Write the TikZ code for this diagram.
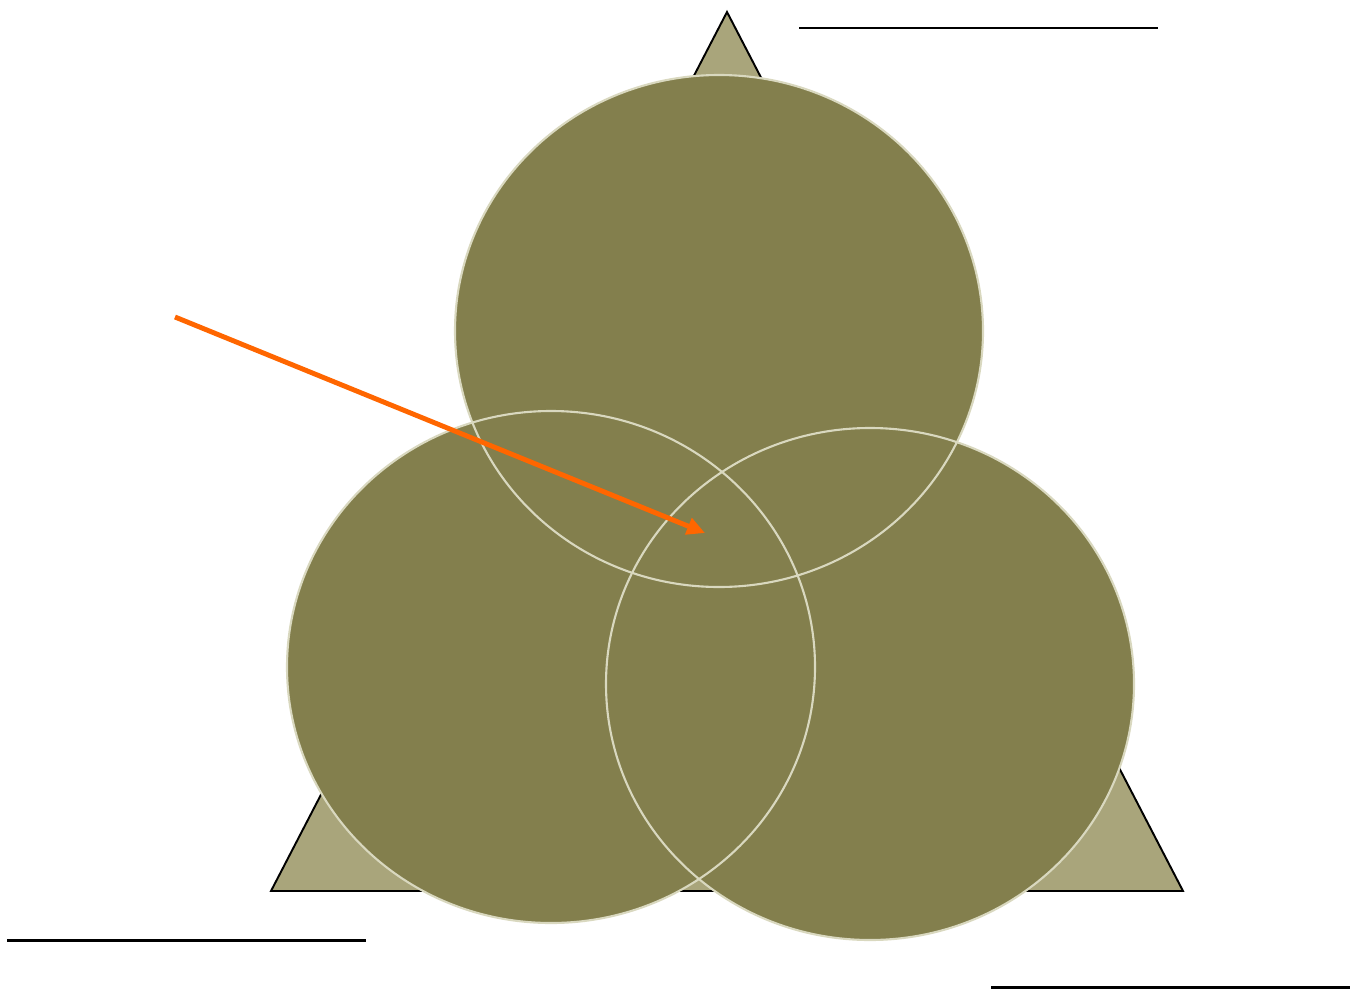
\documentclass[tikz,border=0pt]{standalone}
\usepackage{xcolor}
\usepackage{tikz}
\usetikzlibrary{arrows.meta}
\definecolor{vdolive}{HTML}{837F4D}
\definecolor{vdpale}{HTML}{A9A57B}
\definecolor{vdrim}{HTML}{D9D8BF}
\definecolor{vdorange}{HTML}{FF6600}
\tikzset{
  vdtri/.style={fill=vdpale, draw=black, line width=1.1pt, line join=miter},
  vdfill/.style={fill=vdolive, draw=none},
  vdedge/.style={draw=vdrim, line width=1.2pt},
  vdrule/.style={line width=1.7pt, draw=black},
  vdarrow/.style={line width=2.8pt, draw=vdorange, -{Triangle[length=0.36cm,width=0.34cm]}},
}

\begin{document}
\begin{tikzpicture}[x=0.02cm,y=-0.02cm]
\useasboundingbox (0,0) rectangle (1358,990);
\draw[vdtri] (727,12) -- (1183,891) -- (271,891) -- cycle;
% the three discs
\coordinate (ctop) at (719,331);
\coordinate (cleft) at (551,667);
\coordinate (cright) at (870,684);
\foreach \c in {ctop,cleft,cright}
  \fill[vdfill] (\c) ellipse [x radius=264, y radius=256];
\foreach \c in {ctop,cleft,cright}
  \draw[vdedge] (\c) ellipse [x radius=264, y radius=256];
% blank label rules
\draw[vdrule] (799,28) -- (1158,28);
\draw[vdrule] (7,940) -- (366,940);
\draw[vdrule] (991,987) -- (1350,987);
% pointer
\coordinate (ptail) at (175,317);
\coordinate (phead) at (705,533);
\draw[vdarrow] (ptail) -- (phead);
\end{tikzpicture}
\end{document}
